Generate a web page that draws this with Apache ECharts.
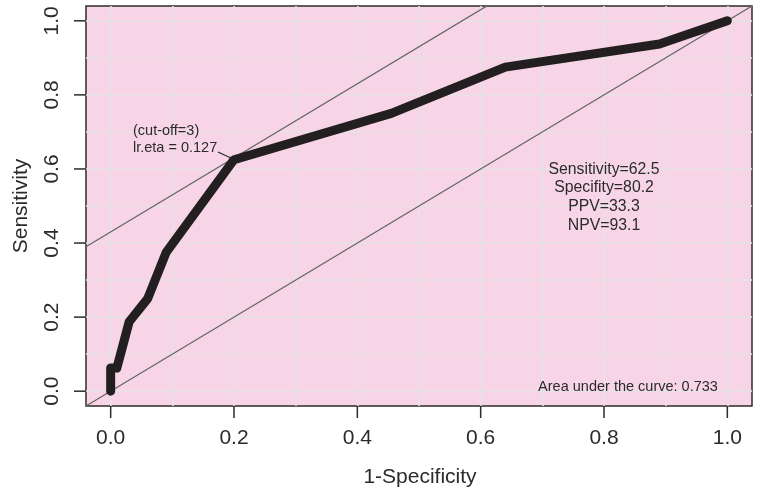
<!DOCTYPE html>
<html>
<head>
<meta charset="utf-8">
<script src="https://cdn.jsdelivr.net/npm/echarts@6/dist/echarts.min.js"></script>
<style>
  html, body { margin: 0; padding: 0; background: #fff; }
  #main { width: 762px; height: 493px; }
</style>
</head>
<body>
<div id="main"></div>
<script>
// ROC curve points (1-Specificity, Sensitivity)
var fpr = [0, 0, 0.01, 0.03, 0.06, 0.09, 0.2, 0.455, 0.64, 0.89, 1];
var tpr = [0, 0.0625, 0.0625, 0.1875, 0.25, 0.375, 0.625, 0.75, 0.875, 0.9375, 1];

// tick labels and grid positions
var tickVals = [0, 0.2, 0.4, 0.6, 0.8, 1.0];
var gridVals = [0, 0.1, 0.2, 0.3, 0.4, 0.5, 0.6, 0.7, 0.8, 0.9, 1.0];

// reference line (y = x) and tangent at the cut-off (y = x + 0.43)
var diagX = [-0.04, 1.04];
var diagY = [-0.04, 1.04];
var tangX = [-0.04, 1.04];
var tangY = [0.39, 1.47];

var statsLines = ['Sensitivity=62.5', 'Specifity=80.2', 'PPV=33.3', 'NPV=93.1'];
var aucText = 'Area under the curve: 0.733';
var cutoffLines = ['(cut-off=3)', 'lr.eta = 0.127'];

var FONT = '"Liberation Sans", Arial, Helvetica, sans-serif';
var AX_MIN = -0.04, AX_MAX = 1.04, TICK_LEN = 12;
var G = { left: 86, right: 10, top: 6, bottom: 87, w: 762, h: 493 };

function pairs(xs, ys) {
  var out = [];
  for (var i = 0; i < xs.length; i++) out.push([xs[i], ys[i]]);
  return out;
}

// linear map of an axis value onto the grid box (same range as the axes)
function xPix(v) {
  return G.left + (v - AX_MIN) / (AX_MAX - AX_MIN) * (G.w - G.left - G.right);
}
function yPix(v) {
  return (G.h - G.bottom) - (v - AX_MIN) / (AX_MAX - AX_MIN) * (G.h - G.top - G.bottom);
}

// outward tick marks
var tickGraphics = [];
tickVals.forEach(function (v) {
  var px = xPix(v), py = yPix(v);
  tickGraphics.push({
    type: 'line', z: 10,
    shape: { x1: px, y1: G.h - G.bottom, x2: px, y2: G.h - G.bottom + TICK_LEN },
    style: { stroke: '#2b2b2b', lineWidth: 1.5 }
  });
  tickGraphics.push({
    type: 'line', z: 10,
    shape: { x1: G.left - TICK_LEN, y1: py, x2: G.left, y2: py },
    style: { stroke: '#2b2b2b', lineWidth: 1.5 }
  });
});

var myChart = echarts.init(document.getElementById('main'));

var axisCommon = {
  type: 'value', min: AX_MIN, max: AX_MAX,
  axisLine: { show: false, onZero: false },
  axisTick: { show: false },
  splitLine: { show: false }
};

var option = {
  animation: false,
  backgroundColor: '#ffffff',
  textStyle: { fontFamily: FONT },
  grid: {
    left: G.left, right: G.right, top: G.top, bottom: G.bottom,
    show: true,
    backgroundColor: '#f8d5e6',
    borderColor: '#2b2b2b',
    borderWidth: 1.5
  },
  xAxis: Object.assign({}, axisCommon, {
    axisLabel: {
      customValues: tickVals, margin: 22, fontSize: 21, color: '#2b2b2b', fontFamily: FONT,
      formatter: function (v) { return v.toFixed(1); }
    }
  }),
  yAxis: Object.assign({}, axisCommon, {
    axisLabel: {
      customValues: tickVals, margin: 23, fontSize: 21, color: '#2b2b2b', fontFamily: FONT, rotate: 90,
      formatter: function (v) { return v.toFixed(1); }
    }
  }),
  series: [
    {
      // light grid
      type: 'line', data: [], silent: true, z: 0,
      markLine: {
        silent: true, symbol: 'none', label: { show: false }, z: 0,
        lineStyle: { color: '#e8e1e5', width: 1.6, type: 'solid' },
        data: gridVals.map(function (v) { return { xAxis: v }; })
          .concat(gridVals.map(function (v) { return { yAxis: v }; }))
      }
    },
    {
      type: 'line', data: pairs(diagX, diagY), symbol: 'none', silent: true, clip: true, z: 3,
      lineStyle: { color: '#666666', width: 1.3 }
    },
    {
      type: 'line', data: pairs(tangX, tangY), symbol: 'none', silent: true, clip: true, z: 3,
      lineStyle: { color: '#666666', width: 1.3 }
    },
    {
      type: 'line', data: pairs(fpr, tpr), symbol: 'none', silent: true, clip: true, z: 6,
      lineStyle: { color: '#231f20', width: 9, cap: 'round', join: 'round' }
    }
  ],
  graphic: [
    {
      type: 'text', x: 420, y: 477,
      style: { text: '1-Specificity', font: '21px ' + FONT, fill: '#2b2b2b', textAlign: 'center', textVerticalAlign: 'middle' }
    },
    {
      type: 'text', x: 21, y: 206, rotation: Math.PI / 2,
      style: { text: 'Sensitivity', font: '21px ' + FONT, fill: '#2b2b2b', textAlign: 'center', textVerticalAlign: 'middle' }
    },
    {
      type: 'text', x: 604, y: 160, z: 10,
      style: { text: statsLines.join('\n'), font: '15.8px ' + FONT, lineHeight: 18.7, fill: '#2b2b2b', textAlign: 'center', textVerticalAlign: 'top' }
    },
    {
      type: 'text', x: 628, y: 387, z: 10,
      style: { text: aucText, font: '14.5px ' + FONT, fill: '#2b2b2b', textAlign: 'center', textVerticalAlign: 'middle' }
    },
    {
      type: 'text', x: 133, y: 123, z: 10,
      style: { text: cutoffLines.join('\n'), font: '14.5px ' + FONT, lineHeight: 16.5, fill: '#2b2b2b', textAlign: 'left', textVerticalAlign: 'top' }
    },
    {
      type: 'line', z: 10,
      shape: { x1: 218, y1: 152, x2: 233, y2: 159 },
      style: { stroke: '#2b2b2b', lineWidth: 1.3 }
    }
  ].concat(tickGraphics)
};

myChart.setOption(option);
</script>
</body>
</html>
